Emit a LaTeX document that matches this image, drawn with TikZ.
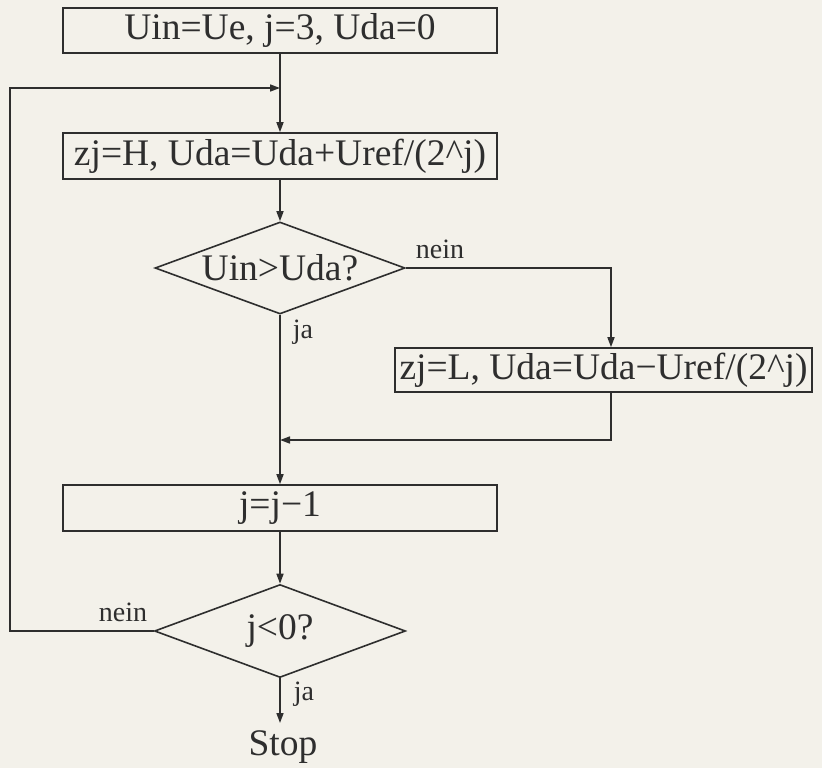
\documentclass[tikz,border=0pt]{standalone}
\usepackage{fontspec}
\setmainfont{Liberation Serif}
\usetikzlibrary{shapes.geometric,arrows.meta,calc}
\definecolor{paper}{HTML}{F3F1EA}
\definecolor{ink}{HTML}{2E2E2E}
\begin{document}
\begin{tikzpicture}[x=1pt,y=-1pt,
  every node/.style={text=ink},
  procbox/.style={draw=ink, line width=1.6pt, rectangle, minimum width=434pt,
    minimum height=45pt, inner sep=0pt, font=\fontsize{37.5}{40}\selectfont},
  decision/.style={draw=ink, line width=1.6pt, diamond, aspect=2.72, inner sep=0pt,
    font=\fontsize{37.5}{40}\selectfont},
  lbl/.style={font=\fontsize{28}{30}\selectfont, anchor=base, inner sep=0pt},
  flow/.style={draw=ink, line width=1.6pt, -{Triangle[length=10pt,width=7pt]}},
  plain/.style={draw=ink, line width=1.6pt}]
  \fill[paper] (0,0) rectangle (822,768);
  \useasboundingbox (0,0) rectangle (822,768);

  % process steps and decisions
  \node[procbox] (init) at (280,30.5) {Uin=Ue, j=3, Uda=0};
  \node[procbox, minimum height=46pt] (setH) at (280,156) {zj=H, Uda=Uda+Uref/(2\^{}j)};
  \node[decision, minimum width=250pt, minimum height=92pt] (cmp) at (280,268) {Uin>Uda?};
  \node[procbox, minimum width=417pt, minimum height=44pt] (setL) at (603.5,370) {zj=L, Uda=Uda−Uref/(2\^{}j)};
  \node[procbox, minimum height=46pt] (dec) at (280,508) {j=j−1};
  \node[decision, minimum width=251pt, minimum height=93pt] (test) at (280,631) {j<0?};
  \node[font=\fontsize{37.5}{40}\selectfont, anchor=base, inner sep=0pt] (stop) at (283,755) {Stop};

  % junction points
  \coordinate (loopin) at (280,88);
  \coordinate (merge) at (280,440);
  \coordinate (loopcorner) at (10,88);
  \coordinate (stoparrow) at (280,723);

  % main column
  \draw[flow] (init.south) -- (setH.north);
  \draw[flow] (setH.south) -- (cmp.north);
  \draw[flow] (cmp.south) -- (dec.north);
  \draw[flow] (dec.south) -- (test.north);
  \draw[flow] (test.south) -- (stoparrow);

  % "nein" branch of the comparison
  \draw[flow] (cmp.east) -| ([xshift=7.5pt]setL.north);
  \draw[plain] ([xshift=7.5pt]setL.south) |- ($(merge)+(2,0)$);
  \draw[flow] ([xshift=7.5pt]setL.south |- merge) -- (merge);

  % loop back from the final test
  \draw[flow] (test.west) -| (loopcorner) -- (loopin);

  % branch labels
  \node[lbl] (n1) at (440,258) {nein};
  \node[lbl] (j1) at (303,338) {ja};
  \node[lbl] (n2) at (123,621) {nein};
  \node[lbl] (j2) at (304,700) {ja};
\end{tikzpicture}
\end{document}
